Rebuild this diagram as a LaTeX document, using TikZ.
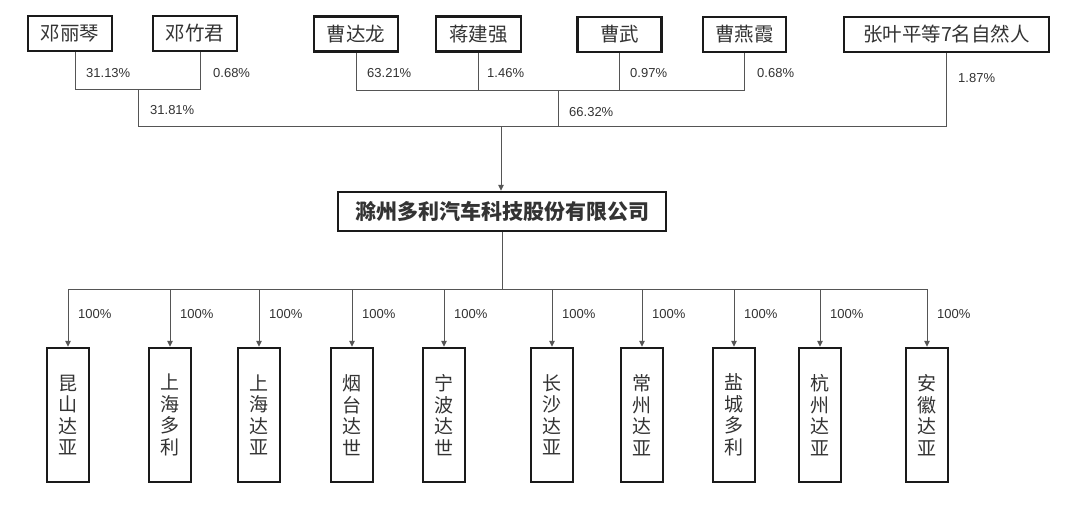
\documentclass[tikz,border=0pt]{standalone}
\usepackage{fontspec}
\newfontfamily\cjk{Noto Sans CJK SC}
\newfontfamily\lat{Liberation Sans}
\usetikzlibrary{arrows.meta}
\definecolor{linec}{HTML}{555555}
\definecolor{boxc}{HTML}{1A1A1A}
\definecolor{txtc}{HTML}{333333}
\tikzset{
  person/.style={draw=boxc, line width=2.4pt, fill=white, inner sep=0pt, minimum height=35pt, font=\cjk\fontsize{19.5}{21}\selectfont, text=txtc},
  company/.style={draw=boxc, line width=2.4pt, fill=white, inner sep=0pt, minimum width=328pt, minimum height=39pt, font=\cjk\bfseries\fontsize{21}{23}\selectfont, text=txtc},
  sub/.style={draw=boxc, line width=2.4pt, fill=white, inner sep=0pt, minimum width=42pt, minimum height=134pt, align=center, font=\cjk\fontsize{19}{21.5}\selectfont, text=txtc},
  conn/.style={draw=linec, line width=1pt},
  arr/.style={conn, -{Triangle[length=6pt,width=5.5pt]}},
  pct/.style={anchor=west, inner sep=0pt, font=\lat\fontsize{13}{15}\selectfont, text=txtc}
}
\begin{document}
\begin{tikzpicture}[x=1pt, y=-1pt]
\path[use as bounding box, fill=white] (0,0) rectangle (1080,504);
% top shareholders
\node[person, minimum width=84pt] (a1) at (70,33.5) {邓丽琴};
\node[person, minimum width=84pt] (a2) at (195,33.5) {邓竹君};
\node[person, minimum width=84pt] (a3) at (356,34) {曹达龙};
\node[person, minimum width=85pt] (a4) at (478.5,34) {蒋建强};
\node[person, minimum width=84pt] (a5) at (619.5,34.5) {曹武};
\node[person, minimum width=83pt] (a6) at (744.5,34.5) {曹燕霞};
\node[person, minimum width=205pt] (a7) at (946.5,34.5) {张叶平等7名自然人};
% Deng group
\coordinate (p1) at (75,89);
\coordinate (p2) at (200,89);
\draw[conn] (a1.south -| p1) -- (p1) -- (p2) -- (a2.south -| p2);
\coordinate (q1) at (138,89);
\coordinate (q2) at (138,126);
\coordinate (r) at (946,126);
\draw[conn] (q1) -- (q2) -- (r) -- (a7.south -| r);
% Cao group
\coordinate (m1) at (356,90);
\coordinate (m2) at (744,90);
\draw[conn] (a3.south) -- (m1) -- (m2) -- (a6.south -| m2);
\draw[conn] (a4.south) -- (a4.south |- m1);
\draw[conn] (a5.south) -- (a5.south |- m1);
\coordinate (m3) at (558,90);
\draw[conn] (m3) -- (m3 |- r);
% labels
\node[pct] (l1) at (86,73) {31.13\%};
\node[pct] (l2) at (213,73) {0.68\%};
\node[pct] (l3) at (150,110) {31.81\%};
\node[pct] (l4) at (367,73) {63.21\%};
\node[pct] (l5) at (487,73) {1.46\%};
\node[pct] (l6) at (630,73) {0.97\%};
\node[pct] (l7) at (757,73) {0.68\%};
\node[pct] (l8) at (569,112) {66.32\%};
\node[pct] (l9) at (958,78) {1.87\%};
% company
\node[company] (c) at (502,211.5) {滁州多利汽车科技股份有限公司};
\coordinate (t) at (501,126);
\draw[arr] (t) -- (c.north -| t);
\coordinate (b) at (502,289);
\draw[conn] (c.south) -- (b);
\coordinate (bl) at (68,289);
\coordinate (br) at (927,289);
\draw[conn] (bl) -- (br);
% subsidiaries
\foreach \x/\n/\t in {68/s1/昆\\山\\达\\亚, 170/s2/上\\海\\多\\利, 259/s3/上\\海\\达\\亚, 352/s4/烟\\台\\达\\世, 444/s5/宁\\波\\达\\世, 552/s6/长\\沙\\达\\亚, 642/s7/常\\州\\达\\亚, 734/s8/盐\\城\\多\\利, 820/s9/杭\\州\\达\\亚, 927/s10/安\\徽\\达\\亚}{
  \node[sub] (\n) at (\x,415) {\t};
  \coordinate (\n top) at (\x,289);
  \draw[arr] (\n top) -- (\n.north);
  \node[pct] (\n lab) at (\x+10,314) {100\%};
}
\end{tikzpicture}
\end{document}
